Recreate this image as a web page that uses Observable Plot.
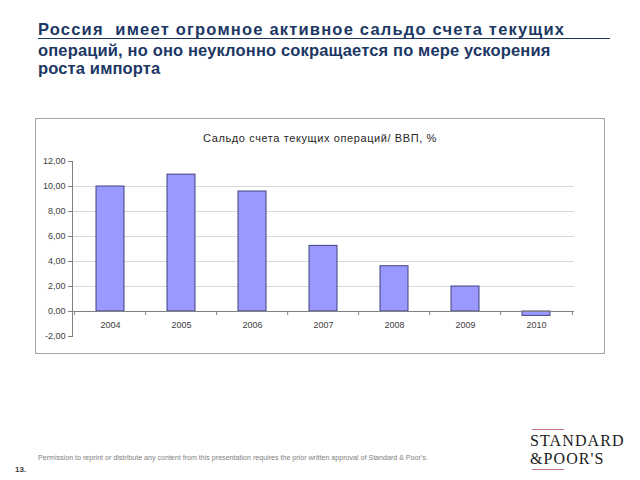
<!DOCTYPE html>
<html>
<head>
<meta charset="utf-8">
<script src="https://cdn.jsdelivr.net/npm/d3@7"></script>
<script src="https://cdn.jsdelivr.net/npm/@observablehq/plot@0.6"></script>
<style>
  html, body { margin: 0; padding: 0; background: #fff; }
  #page { position: relative; width: 640px; height: 480px; overflow: hidden; font-family: "Liberation Sans", Arial, sans-serif; }
  .head { position: absolute; left: 38px; color: #1c3764; font-weight: bold; font-size: 16.5px; white-space: nowrap; letter-spacing: 0.15px; }
  #l1 { top: 20px; width: 572px; border-bottom: 1.5px solid #1c3764; line-height: 18px; letter-spacing: 1.2px; }
  #l2 { top: 41px; line-height: 19px; }
  #l3 { top: 59px; line-height: 19px; }
  #box { position: absolute; left: 35px; top: 118px; width: 568px; height: 234px; border: 1px solid #a6a6a6; }
  #ctitle { position: absolute; left: 0; top: 13px; width: 100%; text-align: center; font-size: 11px; color: #262626; letter-spacing: 0.6px; }
  #chart { position: absolute; left: 0; top: 0; }
  #perm { position: absolute; left: 38px; top: 454px; font-size: 7.1px; color: #808080; white-space: nowrap; }
  #pg { position: absolute; left: 15px; top: 465px; font-size: 8px; font-weight: bold; color: #404040; }
  .logo { position: absolute; left: 530px; font-family: "Liberation Serif", "DejaVu Serif", serif; font-size: 16px; color: #1a1a1a; letter-spacing: 1.1px; line-height: 17.8px; white-space: nowrap; }
  #s1 { top: 431.7px; }
  #s2 { top: 449.6px; }
  .lr { position: absolute; left: 532px; width: 32px; height: 1px; background: #c9737a; }
</style>
</head>
<body>
<div id="page">
  <div class="head" id="l1">Россия&nbsp; имеет огромное активное сальдо счета текущих</div>
  <div class="head" id="l2">операций, но оно неуклонно сокращается по мере ускорения</div>
  <div class="head" id="l3">роста импорта</div>
  <div id="box">
    <div id="ctitle">Сальдо счета текущих операций/ ВВП, %</div>
    <div id="chart"></div>
  </div>
  <div id="perm">Permission to reprint or distribute any content from this presentation requires the prior written approval of Standard &amp; Poor's.</div>
  <div id="pg">13.</div>
  <div class="lr" style="top:429px"></div>
  <div class="logo" id="s1">STANDARD</div>
  <div class="logo" id="s2">&amp;POOR'S</div>
  <div class="lr" style="top:469px"></div>
</div>
<script>
const years = ["2004", "2005", "2006", "2007", "2008", "2009", "2010"];
const balance = [10.0, 10.95, 9.6, 5.25, 3.62, 2.0, -0.35];
const yTicks = [-2, 0, 2, 4, 6, 8, 10, 12];
const gridValues = [2, 4, 6, 8, 10];

const data = years.map((y, i) => ({year: y, value: balance[i]}));

const W = 568, H = 234, ML = 36, MR = 30, MT = 42, MB = 17;
const bw = (W - ML - MR) / years.length;

const chart = Plot.plot({
  width: W,
  height: H,
  marginLeft: ML,
  marginRight: MR,
  marginTop: MT,
  marginBottom: MB,
  style: {fontFamily: "Liberation Sans, Arial, sans-serif", fontSize: "9px", color: "#404040", background: "transparent"},
  x: {domain: years, type: "band", paddingInner: 0.6, paddingOuter: 0.3, axis: null},
  y: {domain: [-2, 12], ticks: yTicks, tickFormat: d => d.toFixed(2).replace(".", ","), label: null},
  marks: [
    Plot.ruleY(gridValues, {stroke: "#d9d9d9", strokeWidth: 1}),
    Plot.axisY({ticks: yTicks, tickFormat: d => d.toFixed(2).replace(".", ","), tickSize: 4, tickPadding: 3, stroke: "#808080", fill: "#404040", label: null}),
    Plot.frame({anchor: "left", stroke: "#808080"}),
    Plot.barY(data, {x: "year", y: "value", fill: "#9999ff", stroke: "#404080", strokeWidth: 1}),
    Plot.ruleY([0], {stroke: "#808080", strokeWidth: 1}),
    Plot.ruleX(years, {x: d => d, y1: 0, y2: -0.32, dx: -bw / 2, stroke: "#808080"}),
    Plot.ruleX(years.slice(-1), {x: d => d, y1: 0, y2: -0.32, dx: bw / 2, stroke: "#808080"}),
    Plot.text(years, {x: d => d, y: 0, dy: 14, text: d => d, fill: "#404040", fontSize: 9})
  ]
});
document.getElementById("chart").appendChild(chart);
</script>
</body>
</html>
